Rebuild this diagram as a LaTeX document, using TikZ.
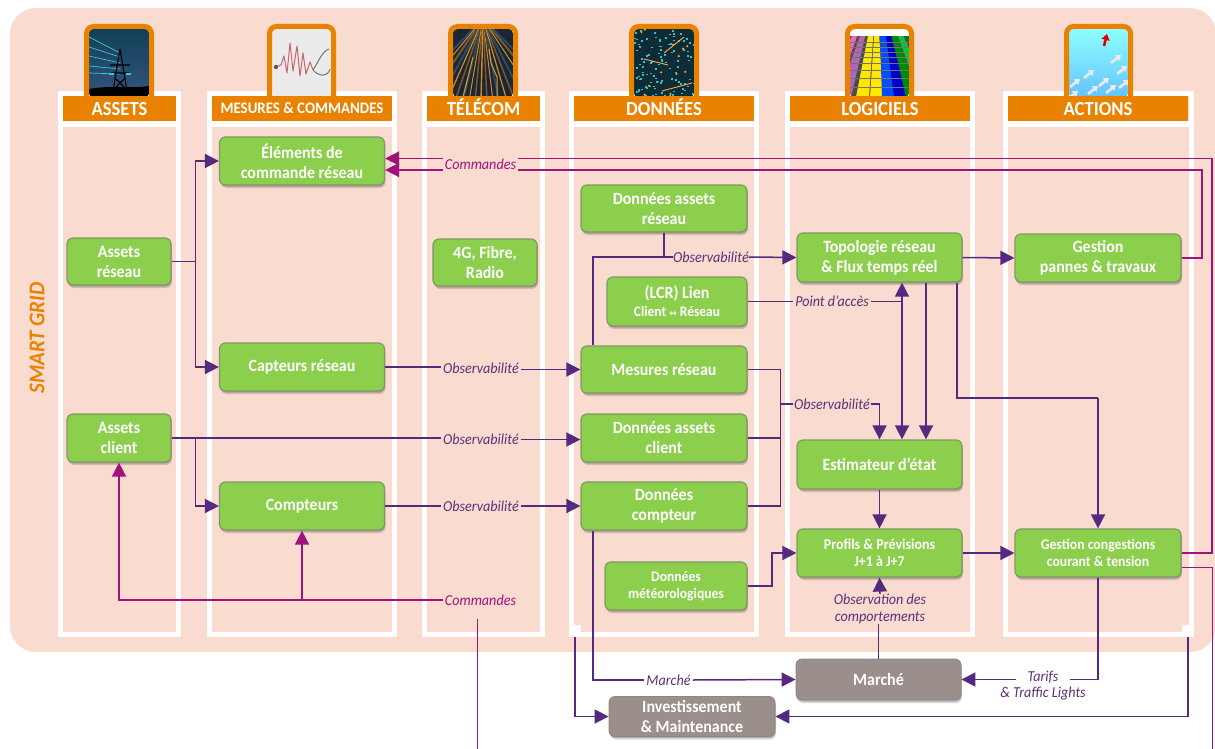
\documentclass[tikz,border=0pt]{standalone}
\usepackage{fontspec}
\setmainfont[FakeStretch=0.93]{Carlito}
\newfontfamily\djv{DejaVu Sans}
\usetikzlibrary{arrows.meta,shadows,calc}
\definecolor{bgpink}{HTML}{F9DBD0}
\definecolor{gfill}{HTML}{8CCF4C}
\definecolor{gline}{HTML}{7E9A66}
\definecolor{orng}{HTML}{E98200}
\definecolor{greyb}{HTML}{9A8F8B}
\definecolor{greyl}{HTML}{8E8580}
\definecolor{purp}{HTML}{54297F}
\definecolor{purt}{HTML}{5C3078}
\definecolor{magn}{HTML}{A2127C}
\definecolor{iconAtop}{HTML}{123F55}
\definecolor{iconAbot}{HTML}{33557F}
\definecolor{iconAline}{HTML}{38C8D0}
\definecolor{iconCbg}{HTML}{1A2636}
\definecolor{iconCor}{HTML}{D98A1E}
\definecolor{iconCbr}{HTML}{7A5A2A}
\definecolor{iconCbl}{HTML}{2C4A66}
\definecolor{iconDbg}{HTML}{0E2C38}
\definecolor{iconDcy}{HTML}{2FC4C0}
\tikzset{
 softshadow/.style={drop shadow={shadow xshift=0.5pt,shadow yshift=-1.5pt,opacity=.18,fill=black},drop shadow={shadow xshift=1pt,shadow yshift=-3pt,opacity=.15,fill=black}},
 gbox/.style={rectangle,rounded corners=6pt,draw=gline,line width=1.2pt,fill=gfill,softshadow,text=white,font=\fontsize{17.2}{20}\selectfont\bfseries,align=center,inner sep=0pt},
 tbox/.style={rectangle,rounded corners=6pt,draw=greyl,line width=.8pt,fill=greyb,softshadow,text=white,font=\fontsize{17.2}{20}\selectfont\bfseries,align=center,inner sep=0pt},
 hdr/.style={rectangle,fill=orng,text=white,font=\fontsize{20}{22}\selectfont\bfseries,inner sep=0pt,minimum height=25pt,text height=14pt,text depth=0pt},
 lab/.style={inner sep=2pt,text=purt,font=\fontsize{15.2}{17}\selectfont\itshape,align=center},
 mlab/.style={inner sep=2pt,text=magn,font=\fontsize{15.2}{17}\selectfont\itshape,align=center},
 pl/.style={draw=purp,line width=1.5pt},
 ml/.style={draw=magn,line width=1.5pt},
 tipa/.style={-{Triangle[length=14pt,width=14pt]}},
 colframe/.style={draw=white,line width=5pt},
 iconframe/.style={draw=orng,line width=5pt,rounded corners=7pt},
}
\begin{document}
\begin{tikzpicture}[x=1pt,y=-1pt]
\useasboundingbox (0,0) rectangle (1215,749);
% background
\fill[bgpink,rounded corners=26pt] (10,8) rectangle (1216,652);
% columns
\foreach \a/\b in {60.5/178,209.5/394,424.5/542,571.5/756,787.5/972,1005.5/1191}{
  \draw[colframe] (\a,93.5) rectangle (\b,634.5);
  \fill[white] (\a,121) rectangle (\b,127);
}
\fill[white] (569,625) rectangle (581,637);
\fill[white] (1182,625) rectangle (1193,637);
% --- icons ---
% icon 1
\begin{scope}[shift={(89,29)}]
 \begin{scope}
 \clip[rounded corners=4pt] (0,0) rectangle (60,68);
 \shade[top color=iconAtop,bottom color=iconAbot] (0,0) rectangle (60,68);
 \foreach \ya/\yb in {8/24,18/28,27/34,37/40,44/45}{\draw[iconAline,line width=.7pt] (0,\ya) -- (31,\yb);}
 \draw[black,line width=1.1pt] (31,20) -- (24,62) (31,20) -- (38,62) (21,36) -- (41,36) (22,44) -- (40,44) (27,50) -- (35,58) (35,50) -- (27,58);
 \draw[iconAline,line width=1.6pt] (20,45) -- (25,45) (37,45) -- (42,45);
 \fill[black] (0,60) .. controls (20,56) and (40,60) .. (60,57) -- (60,68) -- (0,68) -- cycle;
 \end{scope}
\end{scope}
% icon 2
\begin{scope}[shift={(272,29)}]
 \begin{scope}
 \clip[rounded corners=4pt] (0,0) rectangle (60,68);
 \fill[black!8] (0,0) rectangle (60,68);
 \draw[red!65!black!60!white,line width=1pt,line join=round] (4,38) -- (9,36) -- (12,27) -- (15,44) -- (18,14) -- (21,42) -- (25,17) -- (28,47) -- (31,24) -- (34,45) -- (38,33) -- (41,41);
 \draw[black!55,line width=1pt] (41,41) .. controls (46,34) and (50,22) .. (57,20) (41,41) .. controls (47,48) and (56,48) .. (58,40);
 \fill[black!65] (4,38) circle (2.2pt);
 \end{scope}
\end{scope}
% icon 3
\begin{scope}[shift={(453,29)}]
 \begin{scope}
 \clip[rounded corners=4pt] (0,0) rectangle (60,68);
 \fill[iconCbg] (0,0) rectangle (60,68);
 \foreach \x/\c/\w in {-50/iconCbl/2,-38/iconCor/1,-26/iconCbr/2,-14/iconCbl/2,-6/iconCor/1.2,2/iconCbr/1.5,10/iconCbl/2,16/iconCor/1,22/iconCbr/1.5,28/iconCor/1.4,34/iconCbr/1.5,40/iconCor/1,46/iconCbl/2,54/iconCor/1.2,62/iconCbr/1.5,72/iconCbl/2,84/iconCor/1,98/iconCbr/2,112/iconCbl/2}{
   \draw[\c,line width=\w pt] (30,-10) -- (\x,72);}
 \draw[iconCor!80!yellow,line width=1pt] (36,20) -- (38,34) -- (44,48) -- (44,68) (20,28) -- (16,44) -- (10,68);
 \end{scope}
\end{scope}
% icon 4
\begin{scope}[shift={(634,29)}]
 \begin{scope}
 \clip[rounded corners=4pt] (0,0) rectangle (60,68);
 \fill[iconDbg] (0,0) rectangle (60,68);
 \pgfmathsetseed{7}
 \foreach \i in {1,...,110}{
   \pgfmathsetmacro\xa{rnd*60}\pgfmathsetmacro\ya{rnd*68}
   \fill[iconDcy] (\xa,\ya) rectangle ++(2,1.6);}
 \foreach \i in {1,...,12}{
   \pgfmathsetmacro\xa{rnd*60}\pgfmathsetmacro\ya{rnd*68}
   \fill[orange!70!yellow] (\xa,\ya) circle (1.2pt);}
 \draw[orange!70!white,line width=.9pt] (10,30) -- (34,36) (28,62) -- (58,54) (50,8) -- (30,24);
 \end{scope}
\end{scope}
% icon 5
\begin{scope}[shift={(850,29)}]
 \begin{scope}
 \clip[rounded corners=4pt] (0,0) rectangle (59,68);
 \fill[black!70] (0,0) rectangle (59,68);
 \foreach \n/\xa/\xb/\c in {0/2/-28/magenta!60!white,1/10/-12/violet!60!white,2/18/6/yellow!90!orange,3/24/20/yellow!90!orange,4/30/32/blue!70!cyan,5/36/44/blue!80!black,6/42/56/green!55!black,7/48/70/green!60!teal,8/56/84/green!50!black}{
   \fill[\c] (\xa,7) -- (\xa+5.2,7) -- (\xb+13,68) -- (\xb,68) -- cycle;}
 \foreach \y in {13,18,23,28,34,41,49,58}{\draw[black!55,line width=.6pt] (0,\y) -- (59,\y);}
 \fill[white] (0,0) rectangle (59,7);
 \end{scope}
\end{scope}
% icon 6
\begin{scope}[shift={(1069,29)}]
 \begin{scope}
 \clip[rounded corners=4pt] (0,0) rectangle (59,68);
 \shade[top color=cyan!45!white,bottom color=cyan!60!blue!60] (0,0) rectangle (59,68);
 \foreach \x/\y in {47/30,20/45,53/41,35/53,6/54,24/61,42/60,55/55,4/66}{
  \draw[white!92!black,line width=2.6pt,-{Triangle[length=5pt,width=7pt]}] (\x-5,\y+4) -- (\x+5,\y-4);}
 \draw[red!90!black,line width=2.6pt,-{Triangle[length=6pt,width=8pt]}] (35,17) -- (38,5);
 \end{scope}
\end{scope}
% icon frames
\foreach \a/\b in {86.5/151.5,269.5/333.5,450.5/515.5,631.5/696.5,847.5/911.5,1066.5/1130.5}{
  \draw[iconframe] (\a,96) -- (\a,26.5) -- (\b,26.5) -- (\b,96);
}
% headers
\node[hdr,minimum width=113pt] (hA) at (119.5,108.5) {ASSETS};
\node[hdr,minimum width=180pt,font=\fontsize{16}{18}\selectfont\bfseries,text height=10pt] (hB) at (302,108.5) {MESURES \& COMMANDES};
\node[hdr,minimum width=113pt] (hC) at (483.5,108.5) {TÉLÉCOM};
\node[hdr,minimum width=180pt] (hD) at (664,108.5) {DONNÉES};
\node[hdr,minimum width=180pt] (hE) at (880,108.5) {LOGICIELS};
\node[hdr,minimum width=180pt] (hF) at (1098,108.5) {ACTIONS};
\node[rotate=90,text=orng,font=\fontsize{22.5}{24}\selectfont\bfseries\itshape] (sg) at (37,338) {SMART GRID};
% boxes
\node[gbox,minimum width=165pt,minimum height=48pt] (elem) at (302,161) {Éléments de\\commande réseau};
\node[gbox,minimum width=104pt,minimum height=47pt] (ares) at (119,261.5) {Assets\\réseau};
\node[gbox,minimum width=104pt,minimum height=47pt] (tel) at (485,262.5) {4G, Fibre,\\Radio};
\node[gbox,minimum width=165pt,minimum height=48pt] (capt) at (302,367) {Capteurs réseau};
\node[gbox,minimum width=104pt,minimum height=48pt] (acl) at (119,438) {Assets\\client};
\node[gbox,minimum width=165pt,minimum height=48pt] (compt) at (302,506) {Compteurs};
\node[gbox,minimum width=166pt,minimum height=47pt] (dar) at (664,208.5) {Données assets\\réseau};
\node[gbox,minimum width=140pt,minimum height=49pt] (lcr) at (677,301.5) {(LCR) Lien\\[-2pt]{\fontsize{14.5}{15}\selectfont Client {\djv\fontsize{9}{10}\selectfont ↔} Réseau}};
\node[gbox,minimum width=166pt,minimum height=47pt] (mes) at (664,369.5) {Mesures réseau};
\node[gbox,minimum width=166pt,minimum height=48pt] (dac) at (664,438) {Données assets\\client};
\node[gbox,minimum width=166pt,minimum height=48pt] (dc) at (664,506) {Données\\compteur};
\node[gbox,minimum width=142pt,minimum height=48pt,font=\fontsize{14.6}{17}\selectfont\bfseries] (met) at (676,586) {Données\\météorologiques};
\node[gbox,minimum width=165pt,minimum height=49pt] (topo) at (879.5,257.5) {Topologie réseau\\\& Flux temps réel};
\node[gbox,minimum width=165pt,minimum height=49pt] (est) at (879.5,464.5) {Estimateur d’état};
\node[gbox,minimum width=165pt,minimum height=48pt,font=\fontsize{15}{17}\selectfont\bfseries] (prof) at (879.5,553) {Profils \& Prévisions\\J+1 à J+7};
\node[gbox,minimum width=166pt,minimum height=48pt] (gp) at (1098,258) {Gestion\\pannes \& travaux};
\node[gbox,minimum width=166pt,minimum height=48pt,font=\fontsize{14.8}{17}\selectfont\bfseries] (gc) at (1098,553) {Gestion congestions\\courant \& tension};
\node[tbox,minimum width=165pt,minimum height=41pt] (mkt) at (878.5,679.5) {Marché};
\node[tbox,minimum width=166pt,minimum height=40pt] (inv) at (692,716.5) {Investissement\\\& Maintenance};
% labels
\node[mlab] (cmdT) at (480.5,164.5) {Commandes};
\node[mlab] (cmdB) at (480.5,600) {Commandes};
\node[lab] (obsA) at (481,368) {Observabilité};
\node[lab] (obsB) at (481,439) {Observabilité};
\node[lab] (obsC) at (481,506) {Observabilité};
\node[lab,inner sep=0pt] (obsT) at (711,257) {Observabilité};
\node[lab,inner sep=2pt] (pacc) at (832,301.5) {Point d’accès};
\node[lab,inner sep=1pt] (obsE) at (832,404) {Observabilité};
\node[lab,inner sep=0pt] (comp) at (880,609) {Observation des\\comportements};
\node[lab,inner sep=2pt] (mlb) at (668.5,680) {Marché};
\node[lab,inner sep=11pt] (tar) at (1043,677) {Tarifs};
\node[lab,inner sep=0pt] (tra) at (1043,694) {\& Traffic Lights};
% junctions
\coordinate (jA) at (195.5,261.5);
\coordinate (jB) at (195.5,438);
\coordinate (jD) at (593,257);
\coordinate (jE) at (902,301.5);
\coordinate (jF) at (1098,398);
\coordinate (jH) at (780.5,506);
\coordinate (jI) at (772,553);
\coordinate (nA) at (575,637);
\coordinate (nB) at (1188,637);
\coordinate (jU) at (1212,158.5);
\coordinate (jL) at (1202,170);
\coordinate (jV) at (1212.5,749);
\coordinate (jW) at (477.5,749);
\coordinate (jX) at (477.5,619);
% purple connectors
\draw[pl] (ares.east) -- (jA);
\draw[pl,tipa] (jA) |- (elem.west);
\draw[pl,tipa] (jA) |- (capt.west);
\draw[pl] (acl.east) -- (obsB.west |- acl.east);
\draw[pl,tipa] (jB) |- (compt.west);
\draw[pl] (capt.east) -- (obsA.west |- capt.east);
\draw[pl,tipa] (obsA.east |- mes.west) -- (mes.west);
\draw[pl,tipa] (obsB.east |- 0,439.5) -- (dac.west |- 0,439.5);
\draw[pl] (compt.east) -- (obsC.west |- compt.east);
\draw[pl,tipa] (obsC.east |- dc.west) -- (dc.west);
\draw[pl] (jD |- mes.north) -- (jD) -- (obsT.west);
\draw[pl] (dar.south) -- (dar.south |- jD);
\draw[pl,tipa] (obsT.east) -- (topo.west);
\draw[pl] (lcr.east) -- (pacc.west);
\draw[pl] (pacc.east) -- (jE);
\draw[pl,tipa] (jE) -- (jE |- topo.south);
\draw[pl,tipa] (jE) -- (jE |- est.north);
\draw[pl,tipa] ([xshift=46.5pt]topo.south) -- ([xshift=46.5pt]est.north);
\draw[pl] ([xshift=77.5pt]topo.south) |- (jF);
\draw[pl,tipa] (jF) -- (gc.north);
\draw[pl,tipa] (topo.east) -- (gp.west);
\draw[pl] (mes.east) -| (jH) -- (dc.east);
\draw[pl] (dac.east) -- (dac.east -| jH);
\draw[pl] (jH |- obsE.west) -- (obsE.west);
\draw[pl,tipa] (obsE.east) -| (est.north);
\draw[pl,tipa] (est.south) -- (prof.north);
\draw[pl,tipa] (met.east) -| (jI) -- (prof.west);
\draw[pl,tipa] (prof.east) -- (gc.west);
\draw[pl,tipa] (comp.north) -- (prof.south);
\draw[pl] (mkt.north) -- (mkt.north |- comp.south);
\draw[pl] (jD |- dc.south) |- (mlb.west);
\draw[pl,tipa] (mlb.east) -- (mkt.west);
\draw[pl] (gc.south) |- (tar.east |- mkt.east);
\draw[pl,tipa] (tar.west |- mkt.east) -- (mkt.east);
\draw[pl,tipa] (nA) |- (inv.west);
\draw[pl,tipa] (nB) |- (inv.east);
% magenta connectors
\draw[ml] (gc.east) -| (jU) -- (cmdT.east |- jU);
\draw[ml,tipa] (cmdT.west |- jU) -- (elem.east |- jU);
\draw[ml] (gp.east) -| (jL) -- (cmdT.east |- jL);
\draw[ml,tipa] (cmdT.west |- jL) -- (elem.east |- jL);
\draw[ml] ([yshift=-14.5pt]gc.east) -| (jV);
\draw[ml,tipa] (cmdB.west) -| (acl.south);
\draw[ml,tipa] (compt.south |- cmdB.west) -- (compt.south);
\draw[ml] (jW) -- (jX);
\end{tikzpicture}
\end{document}
